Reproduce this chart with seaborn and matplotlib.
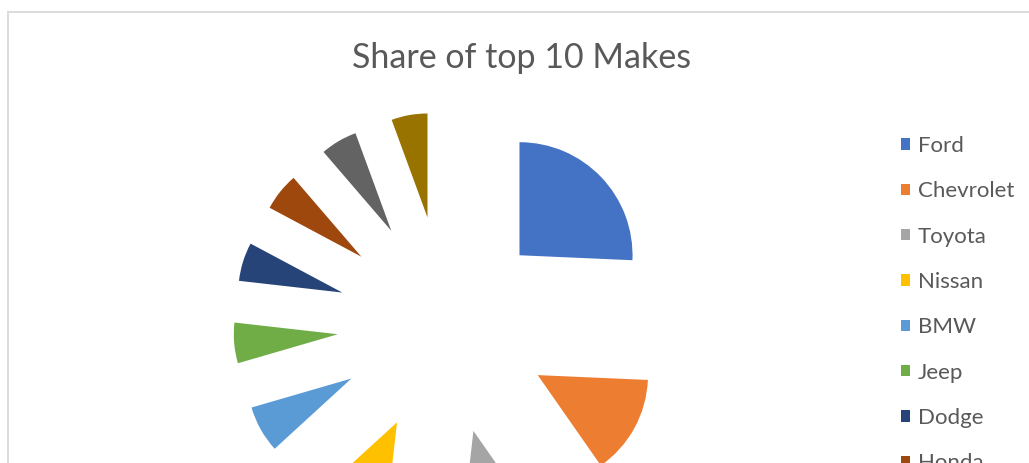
import matplotlib
matplotlib.use("Agg")
import matplotlib.pyplot as plt
from matplotlib.patches import Rectangle, Patch
import seaborn as sns

# ---- data ----
makes = ["Ford", "Chevrolet", "Toyota", "Nissan", "BMW", "Jeep", "Dodge",
         "Honda", "Mercedes-Benz", "Hyundai"]
shares = [25.7, 14.6, 11.5, 11.4, 7.3, 6.3, 6.0, 5.9, 5.7, 5.6]
colors = ["#4472C4", "#ED7D31", "#A5A5A5", "#FFC000", "#5B9BD5",
          "#70AD47", "#264478", "#9E480E", "#636363", "#997300"]
title = "Share of top 10 Makes"

sns.set_theme(style="white")
plt.rcParams["font.family"] = ["Lato", "DejaVu Sans"]

W, H = 1029, 463
fig = plt.figure(figsize=(W / 100, H / 100), dpi=100)
ax = fig.add_axes([0, 0, 1, 1])

# explode (relative to base radius) and per-slice radius scale
base_r = 104
explode_frac = [0.97, 1.0, 1.05, 1.05, 1.05, 1.05, 1.05, 1.05, 1.05, 1.05]
rscale = [1.087, 1.06, 1.0, 1.0, 1.0, 1.0, 1.0, 1.0, 1.0, 1.0]

wedges, _ = ax.pie(shares, colors=sns.color_palette(colors),
                   explode=[e * base_r for e in explode_frac],
                   radius=base_r, center=(446.6, H - 325), startangle=90,
                   counterclock=False, wedgeprops=dict(linewidth=0))
for w, s in zip(wedges, rscale):
    w.set_radius(base_r * s)

ax.set_xlim(0, W)
ax.set_ylim(0, H)
ax.set_aspect("auto")
ax.axis("off")

fig.text(522 / W, 1 - 58 / H, title, ha="center", va="center",
         fontsize=24.5, color="#595959")

handles = [Patch(facecolor=c, edgecolor="none") for c in colors]
fig.legend(handles, makes, loc="upper left",
           bbox_to_anchor=(901 / W, 1 - 136 / H), frameon=False,
           fontsize=16, labelcolor="#595959", handlelength=0.42,
           handleheight=0.42, handletextpad=0.33, labelspacing=1.14,
           borderpad=0, borderaxespad=0)

# chart border (cropped on right/bottom)
fig.patches.append(Rectangle((8 / W, -0.5), 1.2, 1.5 - 12 / H,
                             transform=fig.transFigure, fill=False,
                             edgecolor="#D9D9D9", linewidth=1.3))

fig.savefig("out.png", dpi=100)
